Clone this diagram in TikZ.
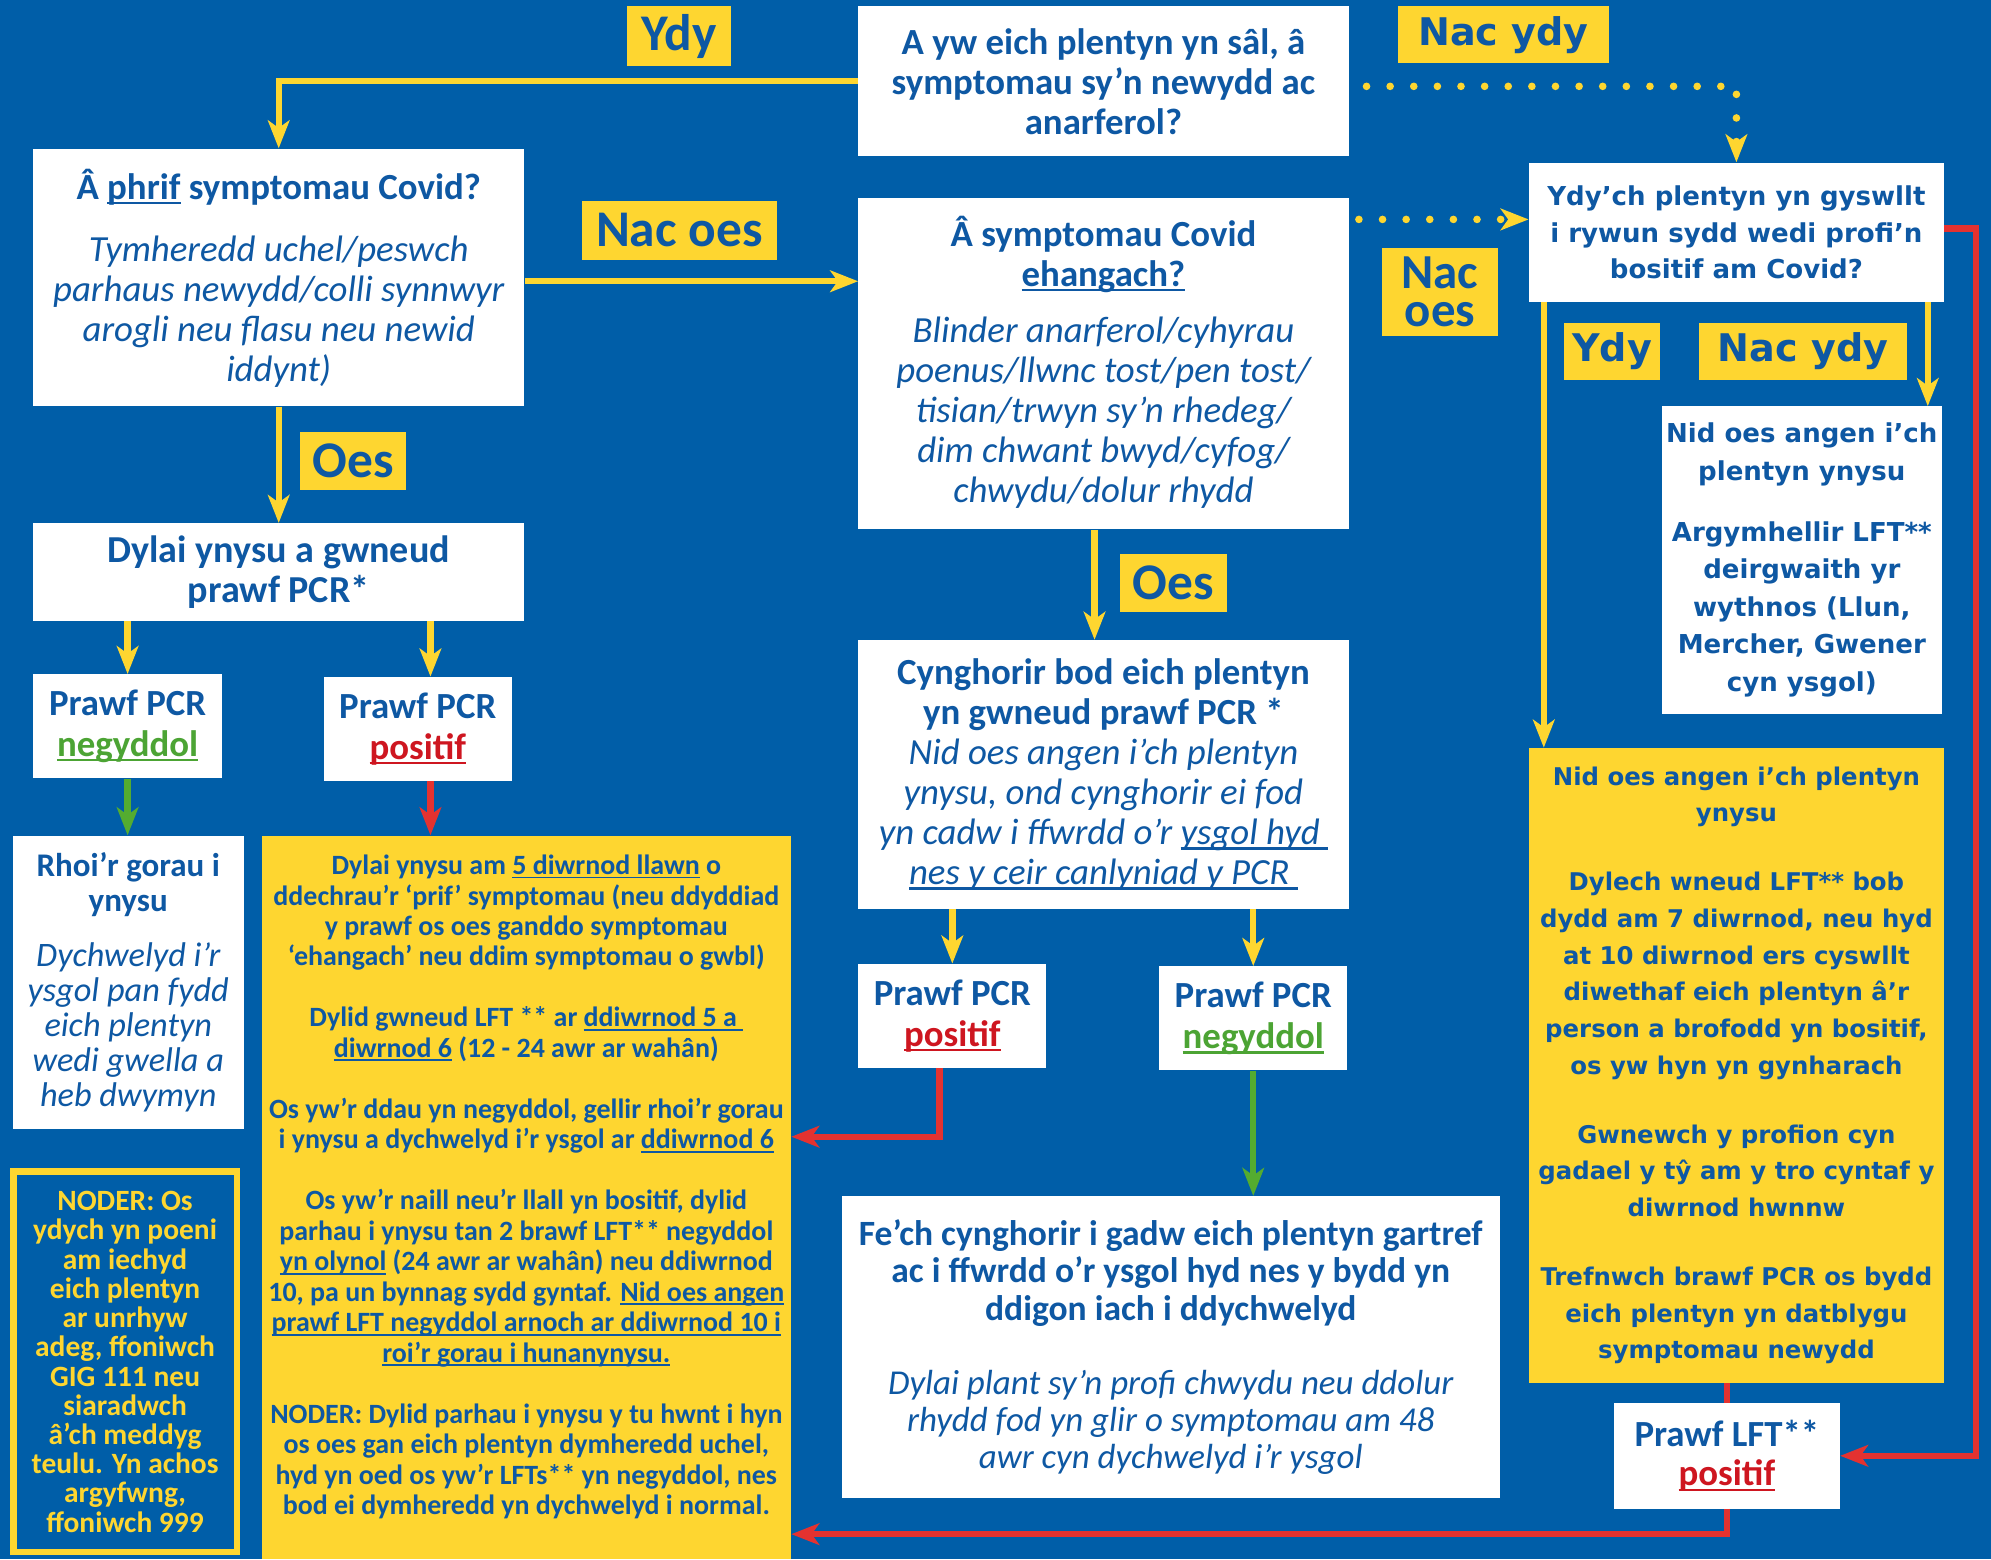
\documentclass[tikz,border=0pt]{standalone}
\usepackage{fontspec}
\setmainfont{Carlito}
\newfontfamily\dvs{DejaVu Sans}
\usetikzlibrary{arrows.meta,calc}
\definecolor{bg}{RGB}{0,94,168}
\definecolor{tblue}{RGB}{14,88,163}
\definecolor{yel}{RGB}{254,214,48}
\definecolor{lred}{RGB}{228,50,48}
\definecolor{lgreen}{RGB}{84,172,48}
\definecolor{tred}{RGB}{206,22,32}
\definecolor{tgreen}{RGB}{76,164,52}
\newsavebox\ulbx
\newcommand\myul[1]{\sbox\ulbx{#1}\rlap{\rule[-0.14em]{\wd\ulbx}{0.065em}}\usebox\ulbx}
\newcommand\itl[1]{\mdseries\itshape\fontsize{#1}{#1}\selectfont}
\begin{document}
\begin{tikzpicture}[x=1pt,y=-1pt,
 box/.style={inner sep=0pt, align=center, text=tblue},
 wbox/.style={box, fill=white},
 ybox/.style={box, fill=yel},
 fa/.style={font=\bfseries\fontsize{29}{31.5}\selectfont},
 pb/.style={font=\bfseries\fontsize{29}{32}\selectfont},
 dv/.style={font=\dvs\bfseries\fontsize{20.5}{29}\selectfont},
 lab/.style={fill=yel, text=tblue, inner sep=0pt, align=center, font=\bfseries\fontsize{40.5}{30}\selectfont},
 dlab/.style={lab, font=\dvs\bfseries\fontsize{30}{30}\selectfont},
 arrtip/.style={-{Stealth[length=22pt,width=17pt,inset=6pt]}},
 yarr/.style={draw=yel, line width=5pt, arrtip},
 rarr/.style={draw=lred, line width=5pt, arrtip},
 rline/.style={draw=lred, line width=5pt},
 garr/.style={draw=lgreen, line width=5pt, arrtip},
 ydot/.style={draw=yel, line width=6pt, line cap=round, dash pattern=on 0pt off 18.6pt, arrtip}
]
\fill[bg] (0,0) rectangle (1568,1228);
\useasboundingbox (0,0) rectangle (1568,1228);

% ---------- boxes ----------
\node[wbox, fa, minimum width=386pt, minimum height=118pt] (q1) at (869,64)
 {A yw eich plentyn yn sâl, â\\ symptomau sy’n newydd ac\\ anarferol?};

\node[wbox, fa, minimum width=387pt, minimum height=203pt] (q2) at (219.5,218.5)
 {Â \myul{phrif} symptomau Covid?\\[17.5pt]
  \itl{29}Tymheredd uchel/peswch\\
  \itl{29}parhaus newydd/colli synnwyr\\
  \itl{29}arogli neu flasu neu newid\\
  \itl{29}iddynt)\\[-28pt]};

\node[wbox, fa, minimum width=386pt, minimum height=261pt] (q3) at (869,286.5)
 {Â symptomau Covid\\ \myul{ehangach?}\\[12.5pt]
  \itl{29}Blinder anarferol/cyhyrau\\
  \itl{29}poenus/llwnc tost/pen tost/\\
  \itl{29}tisian/trwyn sy’n rhedeg/\\
  \itl{29}dim chwant bwyd/cyfog/\\
  \itl{29}chwydu/dolur rhydd\\[-24pt]};

\node[wbox, font=\bfseries\fontsize{30}{31}\selectfont, minimum width=387pt, minimum height=77pt] (dy) at (219.5,450.5)
 {Dylai ynysu a gwneud\\ prawf PCR*};

\node[wbox, pb, minimum width=149pt, minimum height=82pt] (p1) at (100.5,572)
 {Prawf PCR\\ \color{tgreen}\myul{negyddol}};
\node[wbox, pb, minimum width=148pt, minimum height=82pt] (p2) at (329,574)
 {Prawf PCR\\ \color{tred}\myul{positif}};

\node[wbox, font=\bfseries\fontsize{26}{27.5}\selectfont, minimum width=182pt, minimum height=231pt] (rh) at (101,773.5)
 {Rhoi’r gorau i\\ ynysu\\[16.5pt]
  \itl{27}Dychwelyd i’r\\
  \itl{27}ysgol pan fydd\\
  \itl{27}eich plentyn\\
  \itl{27}wedi gwella a\\
  \itl{27}heb dwymyn};

\node[draw=yel, line width=5pt, fill=bg, text=yel, inner sep=0pt, align=center,
      font=\bfseries\fontsize{23.2}{23}\selectfont, minimum width=176pt, minimum height=300pt] (nod) at (98.5,1072.5)
 {NODER: Os\\ ydych yn poeni\\ am iechyd\\ eich plentyn\\ ar unrhyw\\ adeg, ffoniwch\\ GIG 111 neu\\ siaradwch\\ â’ch meddyg\\ teulu. Yn achos\\ argyfwng,\\ ffoniwch 999};

\node[ybox, font=\bfseries\fontsize{22}{24}\selectfont, minimum width=417pt, minimum height=570pt] (ly) at (414.5,943)
 {Dylai ynysu am \myul{5 diwrnod llawn} o\\
  ddechrau’r ‘prif’ symptomau (neu ddyddiad\\
  y prawf os oes ganddo symptomau\\
  ‘ehangach’ neu ddim symptomau o gwbl)\\[24pt]
  Dylid gwneud LFT ** ar \myul{ddiwrnod 5 a }\\
  \myul{diwrnod 6} (12 - 24 awr ar wahân)\\[24pt]
  Os yw’r ddau yn negyddol, gellir rhoi’r gorau\\
  i ynysu a dychwelyd i’r ysgol ar \myul{ddiwrnod 6}\\[24pt]
  Os yw’r naill neu’r llall yn bositif, dylid\\
  parhau i ynysu tan 2 brawf LFT** negyddol\\
  \myul{yn olynol} (24 awr ar wahân) neu ddiwrnod\\
  10, pa un bynnag sydd gyntaf. \myul{Nid oes angen}\\
  \myul{prawf LFT negyddol arnoch ar ddiwrnod 10 i}\\
  \myul{roi’r gorau i hunanynysu.}\\[24pt]
  NODER: Dylid parhau i ynysu y tu hwnt i hyn\\
  os oes gan eich plentyn dymheredd uchel,\\
  hyd yn oed os yw’r LFTs** yn negyddol, nes\\
  bod ei dymheredd yn dychwelyd i normal.\\[-4pt]};

\node[wbox, fa, minimum width=386pt, minimum height=212pt] (cy) at (869,610)
 {Cynghorir bod eich plentyn\\ yn gwneud prawf PCR *\\
  \itl{29}Nid oes angen i’ch plentyn\\
  \itl{29}ynysu, ond cynghorir ei fod\\
  \itl{29}yn cadw i ffwrdd o’r \myul{ysgol hyd }\\
  \itl{29}\myul{nes y ceir canlyniad y PCR }};

\node[wbox, pb, minimum width=148pt, minimum height=82pt] (p3) at (750,800)
 {Prawf PCR\\ \color{tred}\myul{positif}};
\node[wbox, pb, minimum width=148pt, minimum height=82pt] (p4) at (987,802)
 {Prawf PCR\\ \color{tgreen}\myul{negyddol}};

\node[wbox, font=\bfseries\fontsize{28}{29.5}\selectfont, minimum width=518pt, minimum height=238pt] (fe) at (922,1061)
 {Fe’ch cynghorir i gadw eich plentyn gartref\\
  ac i ffwrdd o’r ysgol hyd nes y bydd yn\\
  ddigon iach i ddychwelyd\\[28.5pt]
  \itl{27.5}Dylai plant sy’n profi chwydu neu ddolur\\
  \itl{27.5}rhydd fod yn glir o symptomau am 48\\
  \itl{27.5}awr cyn dychwelyd i’r ysgol};

\node[wbox, dv, minimum width=327pt, minimum height=110pt] (rb) at (1367.5,183)
 {Ydy’ch plentyn yn gyswllt\\ i rywun sydd wedi profi’n\\ bositif am Covid?};

\node[wbox, font=\dvs\bfseries\fontsize{20.5}{29.5}\selectfont, minimum width=220pt, minimum height=242pt] (rw) at (1419,441)
 {Nid oes angen i’ch\\ plentyn ynysu\\[18.5pt]
  Argymhellir LFT**\\ deirgwaith yr\\ wythnos (Llun,\\ Mercher, Gwener\\ cyn ysgol)};

\node[ybox, font=\dvs\bfseries\fontsize{19.2}{29}\selectfont, minimum width=327pt, minimum height=500pt] (ry) at (1367.5,839)
 {Nid oes angen i’ch plentyn\\ ynysu\\[25pt]
  Dylech wneud LFT** bob\\ dydd am 7 diwrnod, neu hyd\\ at 10 diwrnod ers cyswllt\\
  diwethaf eich plentyn â’r\\ person a brofodd yn bositif,\\ os yw hyn yn gynharach\\[25pt]
  Gwnewch y profion cyn\\ gadael y tŷ am y tro cyntaf y\\ diwrnod hwnnw\\[25pt]
  Trefnwch brawf PCR os bydd\\ eich plentyn yn datblygu\\ symptomau newydd};

\node[wbox, font=\bfseries\fontsize{29}{31}\selectfont, minimum width=178pt, minimum height=83pt] (lft) at (1360,1146.5)
 {Prawf LFT**\\ \color{tred}\myul{positif}};

% ---------- labels ----------
\node[lab, minimum width=82pt, minimum height=47pt] (l1) at (535,28.5) {Ydy};
\node[dlab, minimum width=166pt, minimum height=45pt] (l2) at (1184,27.5) {Nac ydy};
\node[lab, minimum width=154pt, minimum height=47pt] (l3) at (535,181.5) {Nac oes};
\node[lab, font=\bfseries\fontsize{38.5}{30}\selectfont, minimum width=92pt, minimum height=70pt] (l4) at (1134,230) {Nac\\ oes};
\node[dlab, minimum width=75pt, minimum height=45pt] (l5) at (1269.5,276.5) {Ydy};
\node[dlab, minimum width=164pt, minimum height=45pt] (l6) at (1420,276.5) {Nac ydy};
\node[lab, minimum width=84pt, minimum height=46pt] (l7) at (278,363) {Oes};
\node[lab, minimum width=84pt, minimum height=46pt] (l8) at (924,459) {Oes};

% ---------- connectors ----------
\draw[yarr] (q1.west) -| (q2.north);
\coordinate (d1) at ($(q1.east)+(14,4)$);
\draw[ydot] (d1) -| (rb.north);
\coordinate (c1) at ($(q2.east)+(0,3)$);
\draw[yarr] (c1) -- (c1 -| q3.west);
\coordinate (d2) at ($(q3.north east)+(8,17)$);
\draw[ydot] (d2) -- (d2 -| rb.west);
\draw[yarr] (q2.south) -- (dy.north);
\draw[yarr] (p1.north |- dy.south) -- (p1.north);
\coordinate (c2) at ($(p2.north)+(10,0)$);
\draw[yarr] (c2 |- dy.south) -- (c2);
\draw[garr] (p1.south) -- (p1.south |- rh.north);
\coordinate (c3) at ($(p2.south)+(10,0)$);
\draw[rarr] (c3) -- (c3 |- ly.north);
\coordinate (c4) at ($(q3.south)+(-7,0)$);
\draw[yarr] (c4) -- (c4 |- cy.north);
\draw[yarr] (p3.north |- cy.south) -- (p3.north);
\draw[yarr] (p4.north |- cy.south) -- (p4.north);
\coordinate (c5) at ($(p3.south)+(-10,0)$);
\coordinate (c6) at ($(c5)+(0,54)$);
\draw[rarr] (c5) -- (c6) -- (c6 -| ly.east);
\draw[garr] (p4.south) -- (p4.south |- fe.north);
\coordinate (c7) at ($(rb.south west)+(12,0)$);
\draw[yarr] (c7) -- (c7 |- ry.north);
\coordinate (c8) at ($(rb.south east)+(-13,0)$);
\draw[yarr] (c8) -- (c8 |- rw.north);
\coordinate (c9) at ($(rb.east)+(0,-3)$);
\draw[rarr] (c9) -- ++(25,0) |- (lft.east);
\draw[rline] (ry.south -| lft.north) -- (lft.north);
\coordinate (c10) at ($(lft.south)+(0,20)$);
\draw[rarr] (lft.south) -- (c10) -- (c10 -| ly.east);
\end{tikzpicture}
\end{document}
